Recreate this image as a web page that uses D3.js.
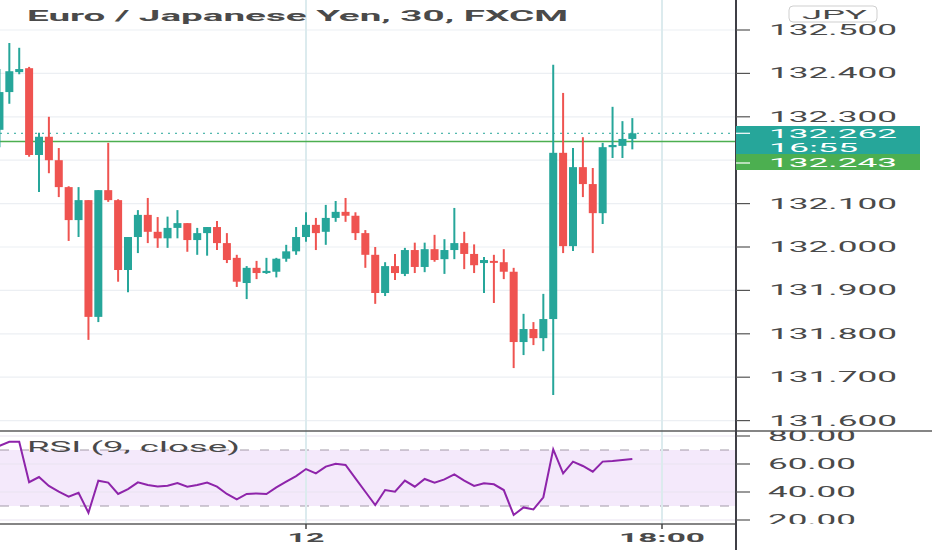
<!DOCTYPE html>
<html>
<head>
<meta charset="utf-8">
<script src="https://cdn.jsdelivr.net/npm/d3@7"></script>
<style>
  body { margin: 0; background: #ffffff; }
  #chart svg { display: block; font-family: Roboto, "Liberation Sans", sans-serif; }
</style>
</head>
<body>
<div id="chart"></div>
<script>
// bar index 0 = "12" (00:00), one bar per 30 minutes
let firstBar = -31;
let opens  = [132.270,132.357,132.403,132.412,132.212,132.254,132.200,132.138,132.062,132.108,131.839,132.131,132.108,131.947,132.023,132.074,132.035,132.020,132.044,132.055,132.016,132.032,132.046,132.009,131.975,131.917,131.952,131.940,131.943,131.973,131.990,
              132.023,132.051,132.035,132.067,132.081,132.072,132.032,131.982,131.894,131.956,131.938,131.993,131.954,131.995,131.972,131.993,132.009,131.984,131.963,131.968,131.965,131.943,131.781,131.811,131.790,131.834,132.217,132.002,132.184,132.145,132.078,132.230,132.233,132.249];
let highs  = [132.410,132.470,132.459,132.415,132.263,132.300,132.228,132.140,132.138,132.108,132.131,132.240,132.110,132.023,132.085,132.113,132.069,132.070,132.085,132.055,132.044,132.046,132.060,132.032,131.982,131.956,131.968,131.975,131.975,132.005,132.046,
              132.080,132.067,132.097,132.106,132.113,132.080,132.039,132.000,131.965,131.984,131.998,132.010,132.010,132.028,132.018,132.090,132.035,132.006,131.977,131.982,131.995,131.952,131.846,131.827,131.892,132.420,132.355,132.228,132.253,132.182,132.240,132.323,132.290,132.297];
let lows   = [132.230,132.330,132.398,132.208,132.127,132.170,132.115,132.014,132.023,131.786,131.827,132.104,131.920,131.896,131.986,132.009,131.998,131.998,132.020,131.989,131.982,131.980,131.993,131.963,131.908,131.880,131.926,131.938,131.930,131.966,131.982,
              132.012,131.993,132.005,132.058,132.058,132.016,131.952,131.869,131.887,131.924,131.933,131.940,131.942,131.966,131.938,131.972,131.949,131.940,131.894,131.871,131.926,131.721,131.751,131.774,131.760,131.659,131.986,131.991,132.115,131.986,132.053,132.205,132.205,132.225];
let closes = [132.357,132.405,132.410,132.212,132.254,132.200,132.138,132.062,132.108,131.839,132.131,132.108,131.947,132.023,132.074,132.035,132.020,132.044,132.055,132.016,132.032,132.046,132.009,131.970,131.920,131.952,131.940,131.945,131.973,131.990,132.023,
              132.051,132.032,132.067,132.081,132.072,132.032,131.982,131.894,131.956,131.940,131.993,131.954,131.995,131.970,131.993,132.009,131.984,131.958,131.970,131.965,131.943,131.781,131.811,131.790,131.834,132.217,132.002,132.184,132.145,132.078,132.230,132.235,132.249,132.262];
let rsiValues = [72.9,75.9,75.9,47.0,50.7,44.3,40.2,36.6,39.5,25.2,48.1,46.7,38.6,42.1,46.9,45.0,44.0,44.5,46.4,43.8,45.0,46.7,43.8,38.6,34.8,38.6,39.0,38.6,43.3,47.4,51.4,
                 56.4,53.3,58.1,60.2,59.3,49.8,40.2,30.7,41.4,40.2,48.1,43.8,49.3,46.7,49.0,52.6,48.1,44.3,46.2,45.5,41.4,23.6,29.0,27.6,36.2,70.5,53.3,61.7,58.6,54.5,61.7,62.1,62.9,63.6];

let priceTicks = [132.5, 132.4, 132.3, 132.2, 132.1, 132.0, 131.9, 131.8, 131.7, 131.6];
let hiddenPriceLabels = [132.2];
let rsiTicks = [80, 60, 40, 20];
let rsiBand = [30, 70];
let timeTicks = [0, 36];
let timeLabels = ["12", "18:00"];
let lastPrice = 132.262;
let countdown = "16:55";
let bidPrice = 132.243;
let titleText = "Euro / Japanese Yen, 30, FXCM";
let rsiTitle = "RSI (9, close)";
let currencyText = "JPY";

let teal = "#26a69a";
let red = "#ef5350";
let green = "#4caf50";

function renderChart() {
    let width = 932;
    let height = 550;
    let plotRight = 736;
    let paneSplit = 431;
    let paneBottom = 524;

    let xScale = d3.scaleLinear().domain([0, 36]).range([306, 662]);
    let yPrice = d3.scaleLinear().domain([131.6, 132.5]).range([420.6, 30]);
    let yRsi = d3.scaleLinear().domain([20, 80]).range([520, 436]);

    let bars = opens.map((o, k) => ({
        i: firstBar + k, open: o, high: highs[k], low: lows[k], close: closes[k], rsi: rsiValues[k]
    }));

    let svg = d3.select("#chart").append("svg")
        .attr("width", width)
        .attr("height", height)
        .style("background-color", "#ffffff");

    let defs = svg.append("defs");
    defs.append("clipPath").attr("id", "clip-main")
        .append("rect").attr("x", 0).attr("y", 0).attr("width", width).attr("height", paneSplit);
    defs.append("clipPath").attr("id", "clip-rsi")
        .append("rect").attr("x", 0).attr("y", paneSplit).attr("width", width).attr("height", paneBottom - paneSplit);

    // stretched text, the screenshot is wide
    function wideText(parent, str, x, y, len, size, opts) {
        opts = opts || {};
        return parent.append("text")
            .attr("x", x)
            .attr("y", y)
            .attr("textLength", len)
            .attr("lengthAdjust", "spacingAndGlyphs")
            .attr("font-size", size)
            .attr("font-weight", opts.weight || "normal")
            .attr("fill", opts.fill || "#4a4a4a")
            .text(str);
    }

    // grid
    svg.selectAll("line.hgrid")
        .data(priceTicks)
        .enter()
        .append("line")
        .attr("x1", 0).attr("x2", plotRight)
        .attr("y1", d => yPrice(d)).attr("y2", d => yPrice(d))
        .style("stroke", "#eceff3")
        .style("stroke-width", 1.2);

    // rsi band
    svg.append("rect")
        .attr("x", 0)
        .attr("y", yRsi(rsiBand[1]))
        .attr("width", plotRight)
        .attr("height", yRsi(rsiBand[0]) - yRsi(rsiBand[1]))
        .style("fill", "#f4e9fb");

    svg.selectAll("line.rgrid")
        .data(rsiTicks)
        .enter()
        .append("line")
        .attr("x1", 0).attr("x2", plotRight)
        .attr("y1", d => yRsi(d)).attr("y2", d => yRsi(d))
        .style("stroke", "#e9e3f0")
        .style("stroke-width", 1);

    svg.selectAll("line.band")
        .data(rsiBand)
        .enter()
        .append("line")
        .attr("x1", 0).attr("x2", plotRight)
        .attr("y1", d => yRsi(d)).attr("y2", d => yRsi(d))
        .style("stroke", "#a39aa8")
        .style("stroke-width", 1)
        .style("stroke-dasharray", "9,11");

    svg.selectAll("line.vgrid")
        .data(timeTicks)
        .enter()
        .append("line")
        .attr("x1", d => xScale(d)).attr("x2", d => xScale(d))
        .attr("y1", 0).attr("y2", paneBottom)
        .style("stroke", "#dcebee")
        .style("stroke-width", 2);

    // price lines
    svg.append("line")
        .attr("x1", 0).attr("x2", plotRight)
        .attr("y1", yPrice(lastPrice)).attr("y2", yPrice(lastPrice))
        .style("stroke", teal)
        .style("stroke-width", 1)
        .style("stroke-dasharray", "2,5");

    svg.append("line")
        .attr("x1", 0).attr("x2", plotRight)
        .attr("y1", yPrice(bidPrice)).attr("y2", yPrice(bidPrice))
        .style("stroke", green)
        .style("stroke-width", 1.5);

    // candles
    let candles = svg.append("g").attr("clip-path", "url(#clip-main)");
    candles.selectAll("line.wick")
        .data(bars)
        .enter()
        .append("line")
        .attr("x1", d => xScale(d.i)).attr("x2", d => xScale(d.i))
        .attr("y1", d => yPrice(d.high)).attr("y2", d => yPrice(d.low))
        .style("stroke", d => d.close >= d.open ? teal : red)
        .style("stroke-width", 2);

    candles.selectAll("rect.body")
        .data(bars)
        .enter()
        .append("rect")
        .attr("x", d => xScale(d.i) - 4)
        .attr("width", 8)
        .attr("y", d => yPrice(Math.max(d.open, d.close)))
        .attr("height", d => Math.max(2, Math.abs(yPrice(d.open) - yPrice(d.close))))
        .style("fill", d => d.close >= d.open ? teal : red);

    // rsi line
    let rsiLine = d3.line()
        .x(d => xScale(d.i))
        .y(d => yRsi(d.rsi));

    svg.append("path")
        .datum(bars)
        .attr("clip-path", "url(#clip-rsi)")
        .attr("d", rsiLine)
        .style("fill", "none")
        .style("stroke", "#8e24aa")
        .style("stroke-width", 2);

    // pane frames
    svg.append("line")
        .attr("x1", 0).attr("x2", width)
        .attr("y1", paneSplit).attr("y2", paneSplit)
        .style("stroke", "#5d5d5d").style("stroke-width", 1.5);
    svg.append("line")
        .attr("x1", 0).attr("x2", plotRight)
        .attr("y1", paneBottom).attr("y2", paneBottom)
        .style("stroke", "#5d5d5d").style("stroke-width", 1.5);
    svg.append("line")
        .attr("x1", plotRight).attr("x2", plotRight)
        .attr("y1", 0).attr("y2", height)
        .style("stroke", "#3f3f46").style("stroke-width", 2);

    // price axis
    let priceAxis = svg.append("g").attr("clip-path", "url(#clip-main)");
    priceAxis.selectAll("line.tick")
        .data(priceTicks)
        .enter()
        .append("line")
        .attr("x1", plotRight).attr("x2", plotRight + 14)
        .attr("y1", d => yPrice(d)).attr("y2", d => yPrice(d))
        .style("stroke", "#555").style("stroke-width", 1.2);
    priceTicks.filter(t => hiddenPriceLabels.indexOf(t) < 0).forEach(t => {
        wideText(priceAxis, d3.format(".3f")(t), 769, yPrice(t) + 5, 128, 14);
    });

    // rsi axis
    let rsiAxis = svg.append("g").attr("clip-path", "url(#clip-rsi)");
    rsiAxis.selectAll("line.tick")
        .data(rsiTicks)
        .enter()
        .append("line")
        .attr("x1", plotRight).attr("x2", plotRight + 14)
        .attr("y1", d => yRsi(d)).attr("y2", d => yRsi(d))
        .style("stroke", "#555").style("stroke-width", 1.2);
    rsiTicks.forEach(t => {
        wideText(rsiAxis, d3.format(".2f")(t), 768, yRsi(t) + 5, 88, 14);
    });

    // time axis
    svg.selectAll("line.ttick")
        .data(timeTicks)
        .enter()
        .append("line")
        .attr("x1", d => xScale(d)).attr("x2", d => xScale(d))
        .attr("y1", paneBottom).attr("y2", paneBottom + 5)
        .style("stroke", "#444").style("stroke-width", 1.5);
    timeTicks.forEach((t, k) => {
        let len = timeLabels[k].length > 2 ? 86 : 37;
        wideText(svg, timeLabels[k], xScale(t) - len / 2, 542, len, 13, { weight: "bold" });
    });

    // last price / bid boxes
    svg.append("rect")
        .attr("x", plotRight).attr("y", 126)
        .attr("width", 184).attr("height", 28)
        .style("fill", teal);
    svg.append("line")
        .attr("x1", plotRight).attr("x2", plotRight + 14)
        .attr("y1", yPrice(lastPrice)).attr("y2", yPrice(lastPrice))
        .style("stroke", "#ffffff").style("stroke-width", 1.2);
    wideText(svg, d3.format(".3f")(lastPrice), 769, 138, 128, 12.5, { fill: "#ffffff" });
    wideText(svg, countdown, 769, 152, 89, 12.5, { fill: "#ffffff" });

    svg.append("rect")
        .attr("x", plotRight).attr("y", 154)
        .attr("width", 184).attr("height", 16)
        .style("fill", green);
    svg.append("line")
        .attr("x1", plotRight).attr("x2", plotRight + 14)
        .attr("y1", 163).attr("y2", 163)
        .style("stroke", "#ffffff").style("stroke-width", 1.2);
    wideText(svg, d3.format(".3f")(bidPrice), 769, 167, 128, 13, { fill: "#ffffff" });

    // currency badge
    svg.append("rect")
        .attr("x", 789).attr("y", 6)
        .attr("width", 88).attr("height", 16)
        .attr("rx", 4)
        .style("fill", "#ffffff")
        .style("stroke", "#cfcfcf");
    wideText(svg, currencyText, 802, 19, 65, 12);

    // titles
    wideText(svg, titleText, 27, 20.5, 541, 15, { weight: "bold" });
    wideText(svg, rsiTitle, 27, 452, 213, 14);
}

renderChart();
</script>
</body>
</html>
